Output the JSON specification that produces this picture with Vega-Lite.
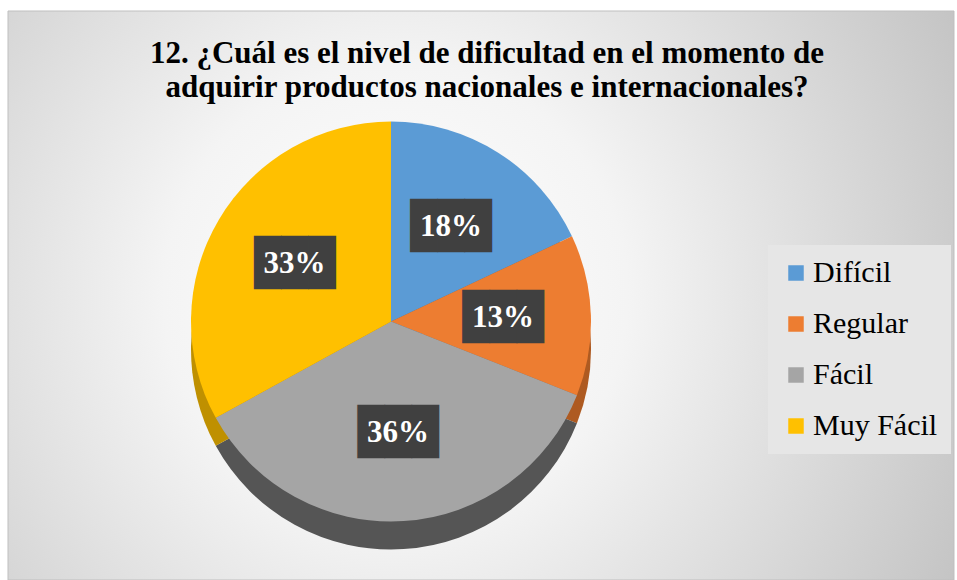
{
  "$schema": "https://vega.github.io/schema/vega-lite/v6.json",
  "width": 946,
  "height": 569,
  "autosize": {"type": "none"},
  "padding": {"left": 8, "top": 11, "right": 3, "bottom": 0},
  "background": "#ffffff",
  "title": {
    "text": ["12. ¿Cuál es el nivel de dificultad en el momento de", "adquirir productos nacionales e internacionales?"],
    "font": "Liberation Serif",
    "fontSize": 31,
    "fontWeight": "bold",
    "color": "#000000",
    "lineHeight": 34,
    "anchor": "middle",
    "frame": "group",
    "offset": -93,
    "dx": 6
  },
  "data": {
    "values": [
      {"cat": "Difícil", "p": 0.18, "ord": 1},
      {"cat": "Regular", "p": 0.13, "ord": 2},
      {"cat": "Fácil", "p": 0.36, "ord": 3},
      {"cat": "Muy Fácil", "p": 0.33, "ord": 4}
    ]
  },
  "encoding": {
    "theta": {"field": "p", "type": "quantitative", "stack": true},
    "order": {"field": "ord", "type": "quantitative"}
  },
  "layer": [
    {
      "data": {"values": [{"bg": 1}]},
      "mark": {
        "type": "rect",
        "stroke": "#bfbfbf",
        "strokeWidth": 1,
        "fill": {
          "gradient": "radial",
          "x1": 0.41, "y1": 0.5, "r1": 0,
          "x2": 0.41, "y2": 0.5, "r2": 0.7,
          "stops": [
            {"offset": 0, "color": "#ffffff"},
            {"offset": 0.35, "color": "#f4f4f4"},
            {"offset": 1, "color": "#c0c0c0"}
          ]
        }
      },
      "encoding": {"theta": null, "order": null}
    },
    {
      "mark": {"type": "arc", "outerRadius": 200, "xOffset": -90, "yOffset": 54},
      "encoding": {
        "color": {
          "field": "cat",
          "type": "nominal",
          "scale": {
            "domain": ["Difícil", "Regular", "Fácil", "Muy Fácil"],
            "range": ["#41719c", "#ae5a21", "#555555", "#bf9000"]
          },
          "legend": null
        }
      }
    },
    {
      "mark": {"type": "arc", "outerRadius": 200, "xOffset": -90, "yOffset": 26},
      "encoding": {
        "color": {
          "field": "cat",
          "type": "nominal",
          "sort": ["Difícil", "Regular", "Fácil", "Muy Fácil"],
          "scale": {
            "domain": ["Difícil", "Regular", "Fácil", "Muy Fácil"],
            "range": ["#5b9bd5", "#ed7d31", "#a5a5a5", "#ffc000"]
          },
          "legend": {"orient": "none", "legendX": 760, "legendY": 234, "title": null}
        }
      }
    },
    {
      "mark": {"type": "text", "radius": 112, "xOffset": -90, "yOffset": 26, "font": "DejaVu Sans Mono", "fontSize": 45, "baseline": "middle", "align": "center"},
      "encoding": {
        "text": {"value": "███"},
        "color": {"value": "#404040"},
        "detail": {"field": "cat", "type": "nominal"}
      }
    },
    {
      "mark": {"type": "text", "radius": 112, "xOffset": -90, "yOffset": 26, "font": "Liberation Serif", "fontWeight": "bold", "fontSize": 31, "baseline": "middle", "align": "center"},
      "encoding": {
        "text": {"field": "p", "type": "quantitative", "format": ".0%"},
        "color": {"value": "#ffffff"},
        "detail": {"field": "cat", "type": "nominal"}
      }
    }
  ],
  "resolve": {"scale": {"color": "independent"}, "legend": {"color": "independent"}},
  "config": {
    "view": {"stroke": null},
    "legend": {
      "fillColor": "#e6e6e6",
      "padding": 13,
      "symbolType": "square",
      "symbolSize": 240,
      "symbolStrokeWidth": 0,
      "labelFont": "Liberation Serif",
      "labelFontSize": 30,
      "labelColor": "#000000",
      "labelOffset": 2,
      "rowPadding": 21,
      "labelLimit": 300
    }
  }
}
